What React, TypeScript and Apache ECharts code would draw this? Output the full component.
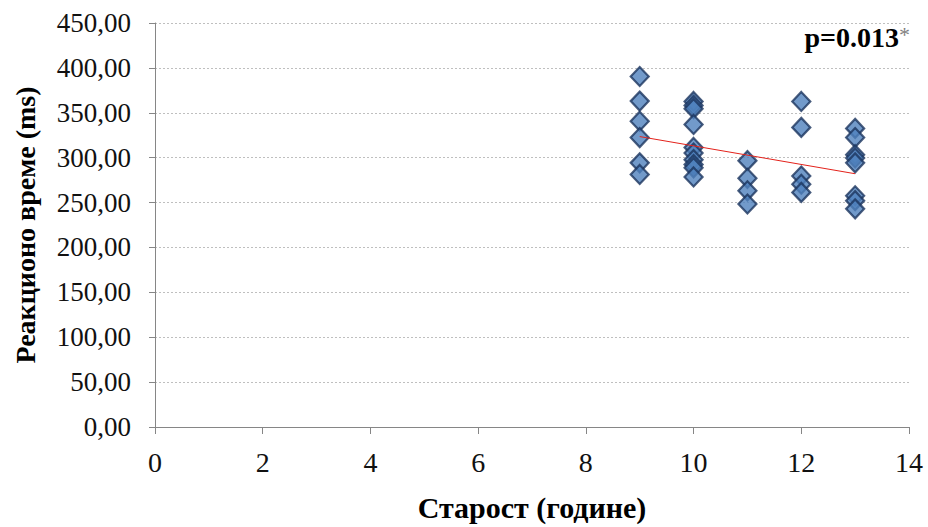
import React, { useEffect, useRef } from "react";
import * as echarts from "echarts";

const ageX = [9, 9, 9, 9, 9, 9, 10, 10, 10, 10, 10, 10, 10, 10, 10, 10, 11, 11, 11, 11, 12, 12, 12, 12, 12, 13, 13, 13, 13, 13, 13, 13, 13];
const reactionY = [390.4, 363, 340.6, 322.4, 294.2, 281.3, 362.6, 358.2, 354.6, 337, 311.4, 305.2, 297.8, 292.3, 288.7, 278.5, 296.7, 277, 263.1, 248.4, 362.6, 333.7, 279.6, 270.4, 261.3, 332.6, 322.4, 303.3, 299.7, 294.2, 257.6, 252.1, 243];
const trendX = [9, 13];
const trendY = [323.5, 282.1];
const xTitle = "Старост (године)";
const yTitle = "Реакционо време (ms)";
const pLabel = "p=0.013";

export default function App() {
  const ref = useRef<HTMLDivElement>(null);
  useEffect(() => {
    if (!ref.current) return;
    const chart = echarts.init(ref.current, null, { renderer: "svg" });
    const serif = "Liberation Serif";
    chart.setOption({
      animation: false,
      grid: { left: 155, right: 19, top: 23, bottom: 94, containLabel: false },
      xAxis: {
        type: "value",
        min: 0,
        max: 14,
        interval: 2,
        name: xTitle,
        nameLocation: "middle",
        nameGap: 65,
        nameTextStyle: { fontFamily: serif, fontSize: 30, fontWeight: "bold", color: "#000" },
        axisLine: { show: true, onZero: false, lineStyle: { color: "#868686", width: 1 } },
        axisTick: { show: true, length: 7, lineStyle: { color: "#868686" } },
        axisLabel: { fontFamily: serif, fontSize: 28, color: "#111", margin: 21 },
        splitLine: { show: false },
      },
      yAxis: {
        type: "value",
        min: 0,
        max: 450,
        interval: 50,
        name: yTitle,
        nameLocation: "middle",
        nameGap: 116,
        nameTextStyle: { fontFamily: serif, fontSize: 28, fontWeight: "bold", color: "#000" },
        axisLine: { show: true, lineStyle: { color: "#868686", width: 1 } },
        axisTick: { show: true, length: 6, lineStyle: { color: "#868686" } },
        axisLabel: {
          fontFamily: serif,
          fontSize: 27,
          color: "#111",
          margin: 24,
          formatter: (v: number) => v.toFixed(2).replace(".", ","),
        },
        splitLine: { show: true, lineStyle: { color: "#BFBFBF", type: [2, 2], width: 1 } },
      },
      series: [
        {
          type: "scatter",
          data: ageX.map((x, i) => [x, reactionY[i]]),
          symbol: "diamond",
          symbolSize: [18, 19],
          itemStyle: { color: "#4F81BD", borderColor: "#1C355E", borderWidth: 2.2 },
          z: 3,
        },
        {
          type: "line",
          data: trendX.map((x, i) => [x, trendY[i]]),
          symbol: "none",
          lineStyle: { color: "#E3221B", width: 1 },
          z: 4,
        },
      ],
      graphic: [
        {
          type: "text",
          right: 18,
          top: 23,
          style: {
            text: "{p|" + pLabel + "}{s|*}",
            rich: {
              p: { fontFamily: serif, fontSize: 28, fontWeight: "bold", fill: "#000" },
              s: { fontFamily: serif, fontSize: 22, fill: "#7F7F7F", verticalAlign: "top" },
            },
          },
        },
      ],
    });
    return () => chart.dispose();
  }, []);
  return <div ref={ref} style={{ position: "absolute", left: 0, top: 0, width: 928, height: 527 }} />;
}
